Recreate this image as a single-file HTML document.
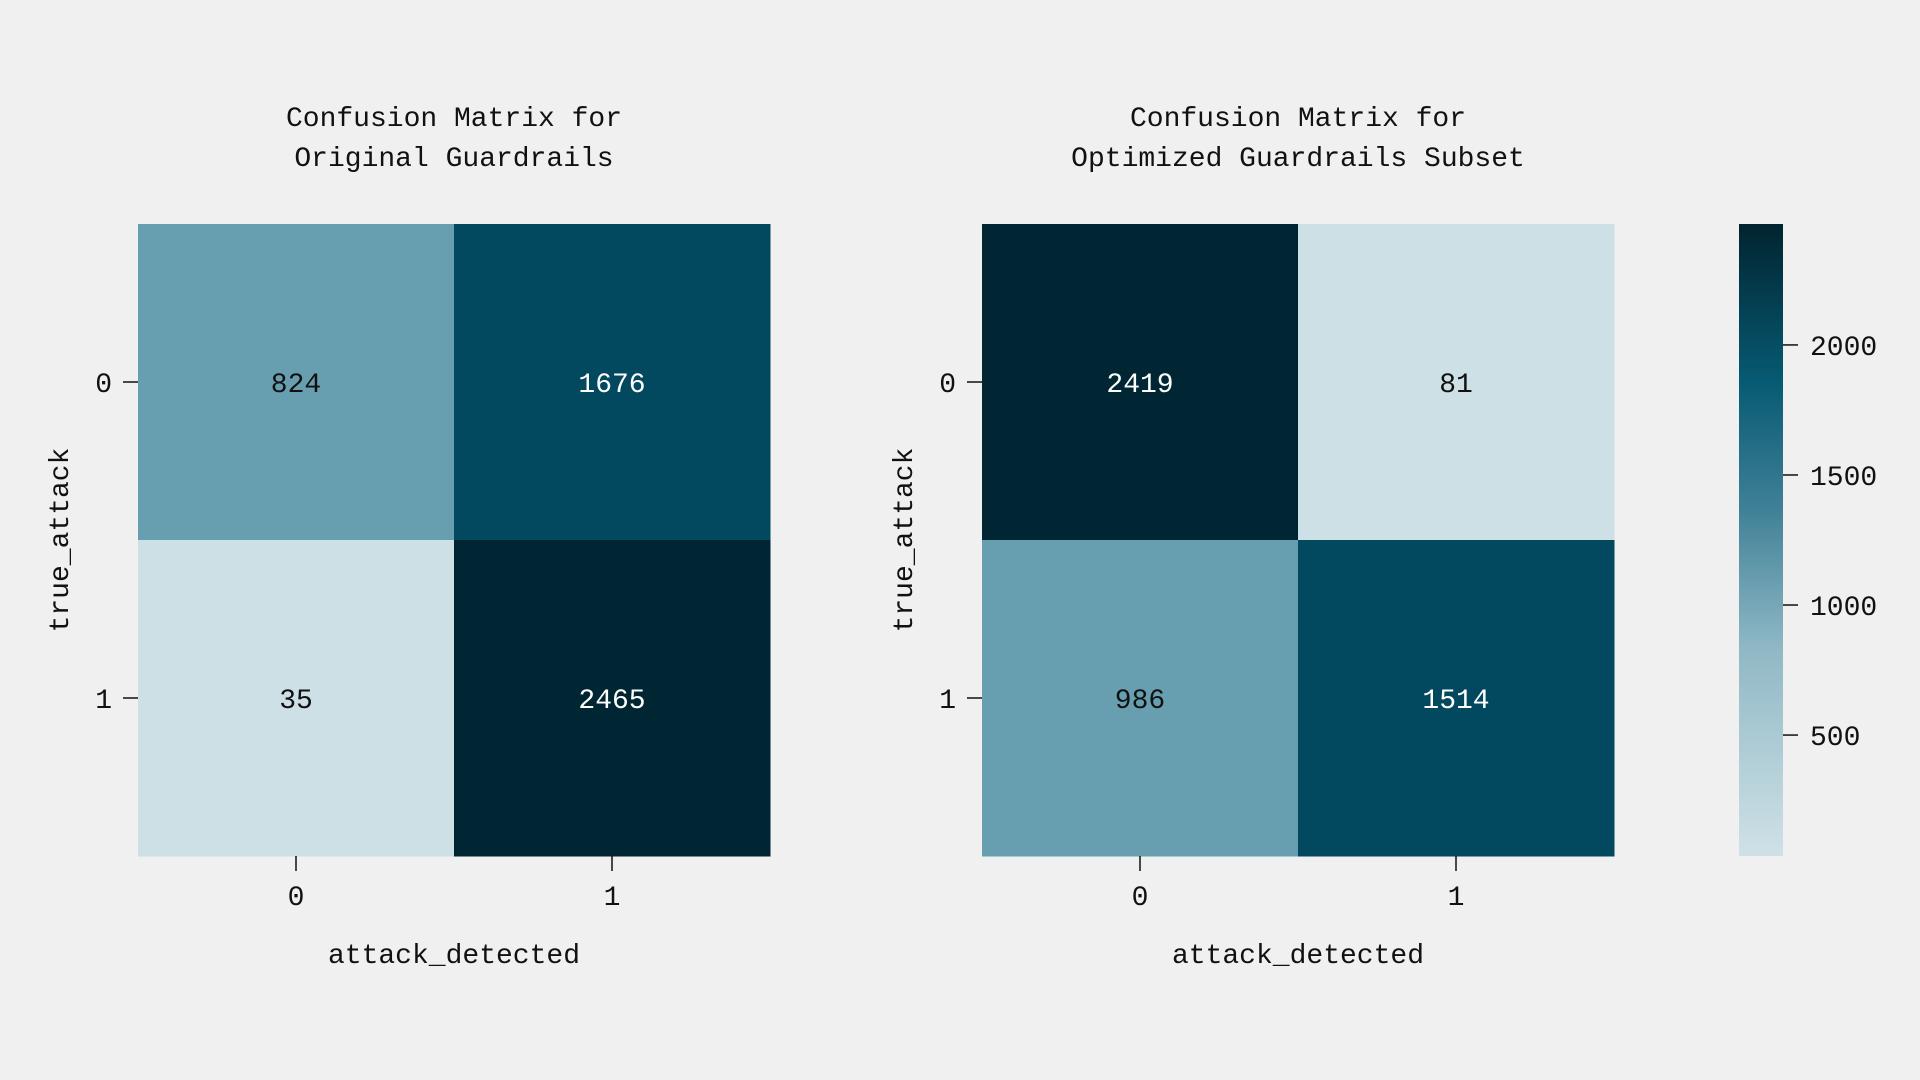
<!DOCTYPE html>
<html><head><meta charset="utf-8"><style>
html,body{margin:0;padding:0;background:#f0f0f0;}
svg{display:block;font-family:"Liberation Mono","DejaVu Sans Mono",monospace;}
</style></head><body>
<svg id="chart" width="1920" height="1080" viewBox="0 0 1920 1080" xmlns="http://www.w3.org/2000/svg">
<rect width="1920" height="1080" fill="#f0f0f0"/>
<defs><linearGradient id="cbg" x1="0" y1="1" x2="0" y2="0">
<stop offset="0" stop-color="#cfe1e7"/><stop offset="0.33" stop-color="#8fb8c5"/><stop offset="0.55" stop-color="#3f8097"/><stop offset="0.75" stop-color="#075a73"/><stop offset="1" stop-color="#01242f"/></linearGradient></defs>
<g id="plots"></g>
</svg>
<script>
const classLabels = ["0","1"];
const titlesLeft = ["Confusion Matrix for","Original Guardrails"];
const titlesRight = ["Confusion Matrix for","Optimized Guardrails Subset"];
const originalValues = [[824,1676],[35,2465]];
const optimizedValues = [[2419,81],[986,1514]];
const colorbarTicks = [500,1000,1500,2000];
const palette = ["#cde0e6","#689fb0","#02485f","#012633"];

const NS="http://www.w3.org/2000/svg";
const plotGroup=document.getElementById('plots');
function mk(tag,attrs,parent){const e=document.createElementNS(NS,tag);for(const k in attrs)e.setAttribute(k,attrs[k]);(parent||plotGroup).appendChild(e);return e;}
const allVals=originalValues.flat().concat(optimizedValues.flat());
const vmin=Math.min(...allVals), vmax=Math.max(...allVals);
function colorFor(v){let f=(v-vmin)/(vmax-vmin);let i=Math.min(palette.length-1,Math.floor(f*palette.length));return palette[i];}
const plotTop=224, plotSize=632, cellSize=plotSize/2;
function drawMatrix(x0,vals,titles,key){
  titles.forEach((t,i)=>{const e=mk('text',{x:x0+plotSize/2,y:126+i*40,'text-anchor':'middle','font-size':28,fill:'#111'});e.textContent=t;
    
    });
  vals.forEach((row,r)=>row.forEach((v,c)=>{
    const rc=mk('rect',{x:x0+c*cellSize,y:plotTop+r*cellSize,width:cellSize+0.5,height:cellSize+0.5,fill:colorFor(v)});
    
    
    const f=(v-vmin)/(vmax-vmin);
    const t=mk('text',{x:x0+c*cellSize+cellSize/2,y:plotTop+r*cellSize+cellSize/2+10,'text-anchor':'middle','font-size':28,fill:f>0.5?'#fff':'#111'});
    t.textContent=v;
    
    
  }));
  classLabels.forEach((l,i)=>{
    const cy=plotTop+i*cellSize+cellSize/2;
    mk('line',{x1:x0-15,x2:x0,y1:cy,y2:cy,stroke:'#111','stroke-width':1.5});
    const t=mk('text',{x:x0-26,y:cy+10,'text-anchor':'end','font-size':28,fill:'#111'});t.textContent=l;
    
    
    const cx=x0+i*cellSize+cellSize/2;
    mk('line',{x1:cx,x2:cx,y1:plotTop+plotSize,y2:plotTop+plotSize+15,stroke:'#111','stroke-width':1.5});
    const u=mk('text',{x:cx,y:905,'text-anchor':'middle','font-size':28,fill:'#111'});u.textContent=l;
    
    
  });
  const xl=mk('text',{x:x0+plotSize/2,y:963,'text-anchor':'middle','font-size':28,fill:'#111'});xl.textContent='attack_detected';
  
  
  const yx=x0-70, yy=plotTop+plotSize/2;
  const yl=mk('text',{x:yx,y:yy,'text-anchor':'middle','font-size':28,fill:'#111',transform:`rotate(-90 ${yx} ${yy})`});yl.textContent='true_attack';
  
  
}
drawMatrix(138,originalValues,titlesLeft,'original');
drawMatrix(982,optimizedValues,titlesRight,'optimized');
const cbx=1739,cbw=44;
const cb=mk('rect',{x:cbx,y:plotTop,width:cbw,height:plotSize,fill:'url(#cbg)'});


function cbY(v){return plotTop+plotSize-(v-vmin)/(vmax-vmin)*plotSize;}
colorbarTicks.forEach(v=>{
  const y=cbY(v);
  mk('line',{x1:cbx+cbw,x2:cbx+cbw+15,y1:y,y2:y,stroke:'#111','stroke-width':1.5});
  const t=mk('text',{x:cbx+cbw+27,y:y+10,'font-size':28,fill:'#111'});t.textContent=v;
  
  
});
</script>
</body></html>
